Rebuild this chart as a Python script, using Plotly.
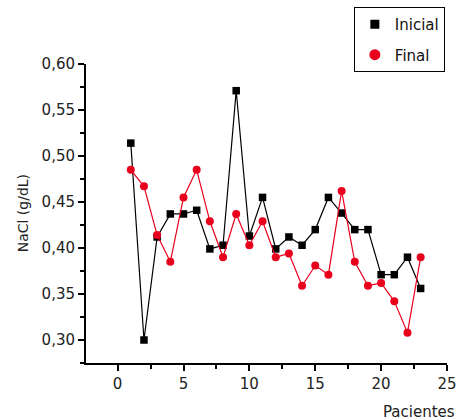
import plotly.graph_objects as go

pacientes = list(range(1, 24))
inicial = [0.514, 0.300, 0.412, 0.437, 0.437, 0.441, 0.399, 0.403, 0.571, 0.413,
           0.455, 0.399, 0.412, 0.403, 0.420, 0.455, 0.438, 0.420, 0.420, 0.371,
           0.371, 0.390, 0.356]
final = [0.485, 0.467, 0.414, 0.385, 0.455, 0.485, 0.429, 0.390, 0.437, 0.403,
         0.429, 0.390, 0.394, 0.359, 0.381, 0.371, 0.462, 0.385, 0.359, 0.362,
         0.342, 0.308, 0.390]
x_ticks = [0, 5, 10, 15, 20, 25]
y_ticks = [0.30, 0.35, 0.40, 0.45, 0.50, 0.55, 0.60]

FONT = "DejaVu Sans"
RED = "#e8001c"

fig = go.Figure()
fig.add_trace(go.Scatter(
    x=pacientes, y=inicial, name="Inicial", mode="lines+markers",
    line=dict(color="black", width=1.2),
    marker=dict(symbol="square", size=7.5, color="black"),
    showlegend=False,
))
fig.add_trace(go.Scatter(
    x=pacientes, y=final, name="Final", mode="lines+markers",
    line=dict(color=RED, width=1.2),
    marker=dict(symbol="circle", size=8, color=RED),
    showlegend=False,
))
# legend entries (marker only, as in the reference)
fig.add_trace(go.Scatter(
    x=[None], y=[None], name="Inicial", mode="markers",
    marker=dict(symbol="square", size=9, color="black"),
    legendgroup="a",
))
fig.add_trace(go.Scatter(
    x=[None], y=[None], name="Final", mode="markers",
    marker=dict(symbol="circle", size=11, color=RED),
    legendgroup="b",
))

axis_common = dict(
    showline=True, linecolor="black", linewidth=2,
    ticks="outside", ticklen=6, tickwidth=1.5, tickcolor="black",
    showgrid=False, zeroline=False,
    tickfont=dict(family=FONT, size=15, color="#222"),
)

fig.update_layout(
    width=459, height=420,
    margin=dict(l=86, r=12, t=64, b=57, autoexpand=False),
    plot_bgcolor="white", paper_bgcolor="white",
    separators=",.",
    font=dict(family=FONT, size=15, color="#222"),
    xaxis=dict(range=[-2.4, 25], tickvals=x_ticks,
               minor=dict(dtick=2.5, tick0=0, ticks="outside", ticklen=4,
                          tickwidth=1.5, tickcolor="black"),
               **axis_common),
    yaxis=dict(range=[0.275, 0.60], tickvals=y_ticks, tickformat=".2f",
               minor=dict(dtick=0.025, tick0=0.275, ticks="outside", ticklen=4,
                          tickwidth=1.5, tickcolor="black"),
               **axis_common),
    legend=dict(x=0.742, y=1.191, xanchor="left", yanchor="top",
                bordercolor="black", borderwidth=1, bgcolor="white",
                tracegroupgap=8, itemwidth=30,
                font=dict(family=FONT, size=15, color="#111")),
    showlegend=True,
    annotations=[
        dict(text="NaCl (g/dL)", xref="paper", yref="paper",
             x=-0.175, y=0.5, xanchor="center", yanchor="middle",
             textangle=-90, showarrow=False,
             font=dict(family=FONT, size=14, color="#222")),
        dict(text="Pacientes", xref="paper", yref="paper",
             x=1.028, y=-0.165, xanchor="right", yanchor="middle",
             showarrow=False,
             font=dict(family=FONT, size=15, color="#222")),
    ],
)

fig.write_html(
    "out.html",
    config={"displayModeBar": False},
    post_script="document.body.style.margin='0';document.body.style.overflow='hidden';",
)
